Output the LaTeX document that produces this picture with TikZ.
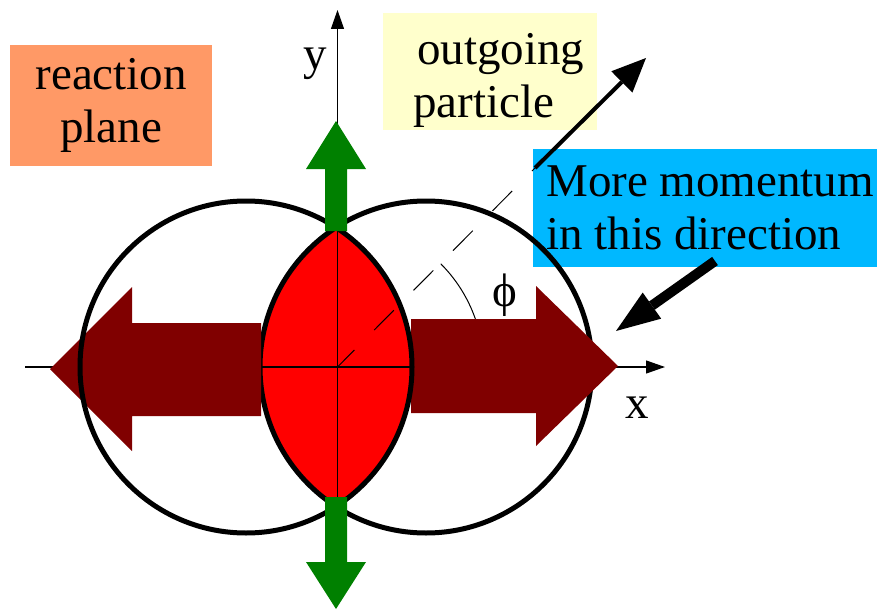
\documentclass[tikz,border=0pt]{standalone}
\usepackage{fontspec}
\setmainfont{Liberation Serif}
\usetikzlibrary{arrows.meta}
\definecolor{planeorange}{RGB}{255,153,102}
\definecolor{noteyellow}{RGB}{255,255,204}
\definecolor{notecyan}{RGB}{0,184,255}
\definecolor{flowbrown}{RGB}{128,0,0}
\definecolor{flowgreen}{RGB}{0,128,0}

\begin{document}
\begin{tikzpicture}[x=1pt,y=-1pt,>={Triangle[length=19pt,width=13pt]},
  lbl/.style={font=\fontsize{47}{53}\selectfont,inner sep=0pt},
  notebox/.style={lbl,anchor=north west},
  ring/.style={line width=5pt}]
\useasboundingbox (0,0) rectangle (879,610);

\coordinate (O) at (337.5,367);
\coordinate (lc) at (246,367);
\coordinate (rc) at (426,367);

% text boxes
\node[notebox,fill=planeorange,minimum width=202pt,minimum height=121pt,align=center] (plane) at (10,45) {reaction\\plane};
\node[notebox,fill=noteyellow,minimum width=214pt,minimum height=117pt,align=left,text height=102pt] (outp) at (383,13) {\hspace*{21pt}outgoing\\\hspace*{17pt}particle};
\node[notebox,fill=notecyan,minimum width=344pt,minimum height=118pt,align=left] (mom) at (533,149) {\hspace*{10pt}More momentum\\\hspace*{10pt}in this direction};

% overlap region
\begin{scope}
\clip (lc) circle[radius=166];
\fill[red] (rc) circle[radius=166];
\end{scope}

% axes
\coordinate (xa) at (25,367);
\coordinate (xb) at (665,367);
\coordinate (ya) at (337.5,560);
\coordinate (yb) at (337.5,10);
\draw[->,line width=1.2pt] (xa) -- (xb);
\draw[->,line width=1.2pt] (ya) -- (yb);
\node[lbl] (xlbl) at (637,407.5) {x};
\node[lbl] (ylbl) at (315,64) {y};

% particle direction and angle
\coordinate (pstart) at (535,168);
\coordinate (ptip) at (646,58);
\draw[line width=1pt,dash pattern=on 28pt off 28pt,dash phase=4pt] (O) -- (pstart);
\draw[line width=1pt] (O) ++(-45:146) arc[start angle=-45,end angle=0,radius=146];
\node[lbl] (phi) at (504.5,295.5) {ϕ};

\draw[ring] (rc) circle[radius=166];

% flow along x
\fill[flowbrown] (261,323) -- (132,323) -- (132,287) -- (50,369) -- (132,451) -- (132,416) -- (261,416) -- cycle;
\fill[flowbrown] (411,319) -- (536,319) -- (536,286) -- (618,366) -- (536,446) -- (536,413) -- (411,413) -- cycle;

\draw[ring] (lc) circle[radius=166];

% flow along y
\fill[flowgreen] (325,231) -- (325,169) -- (306,169) -- (336,121) -- (366,169) -- (347,169) -- (347,231) -- cycle;
\fill[flowgreen] (325,497) -- (325,562) -- (306,562) -- (336,609) -- (366,562) -- (347,562) -- (347,497) -- cycle;

\draw[-{Triangle[length=34pt,width=30pt,line width=0pt]},line width=4pt] (pstart) -- (ptip);

\coordinate (mstart) at (715,261);
\coordinate (mtip) at (616,331);
\draw[-{Triangle[length=44pt,width=32pt,line width=0pt]},line width=10pt] (mstart) -- (mtip);
\end{tikzpicture}
\end{document}
